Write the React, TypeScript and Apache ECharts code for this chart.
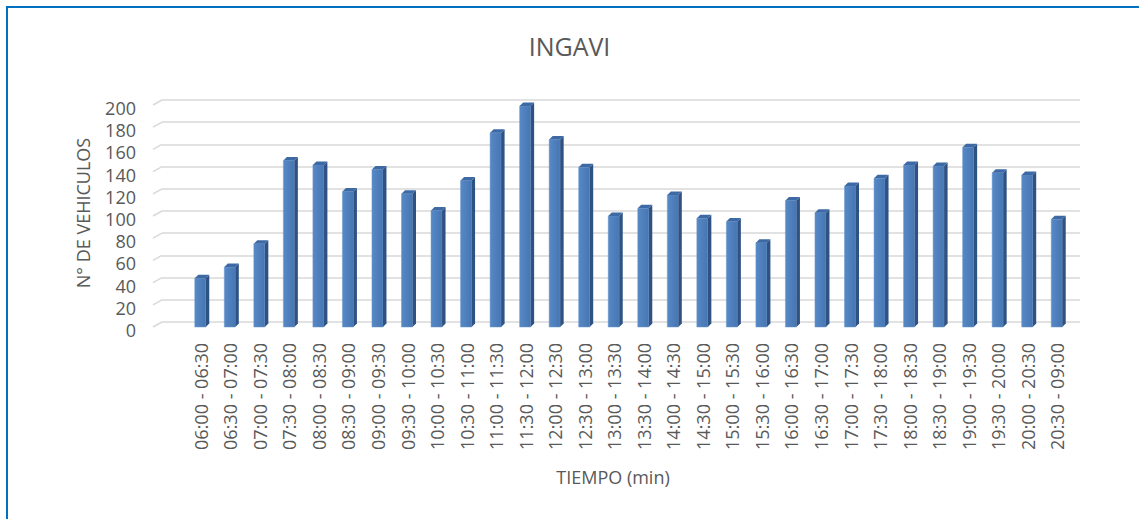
import React, { useEffect, useRef } from "react";
import * as echarts from "echarts";

const categories = [
  "06:00 - 06:30", "06:30 - 07:00", "07:00 - 07:30", "07:30 - 08:00", "08:00 - 08:30",
  "08:30 - 09:00", "09:00 - 09:30", "09:30 - 10:00", "10:00 - 10:30", "10:30 - 11:00",
  "11:00 - 11:30", "11:30 - 12:00", "12:00 - 12:30", "12:30 - 13:00", "13:00 - 13:30",
  "13:30 - 14:00", "14:00 - 14:30", "14:30 - 15:00", "15:00 - 15:30", "15:30 - 16:00",
  "16:00 - 16:30", "16:30 - 17:00", "17:00 - 17:30", "17:30 - 18:00", "18:00 - 18:30",
  "18:30 - 19:00", "19:00 - 19:30", "19:30 - 20:00", "20:00 - 20:30", "20:30 - 09:00",
];
const vehicles = [
  44, 54, 75, 150, 146, 122, 142, 120, 105, 132,
  175, 199, 169, 144, 100, 107, 119, 98, 95, 76,
  114, 103, 127, 134, 146, 145, 162, 139, 137, 97,
];
const gridTicks = [0, 20, 40, 60, 80, 100, 120, 140, 160, 180, 200];
const yTicks = { min: 0, max: 200, interval: 20 };
const title = "INGAVI";
const yName = "N° DE VEHICULOS";
const xName = "TIEMPO (min)";

const FONT = "'Open Sans', 'Liberation Sans', sans-serif";
const TXT = "#595959";
const GRID_COLOR = "#d9d9d9";

export default function App() {
  const ref = useRef<HTMLDivElement>(null);
  useEffect(() => {
    if (!ref.current) return;
    const chart = echarts.init(ref.current, null, { renderer: "svg" });
    const option: any = {
      animation: false,
      backgroundColor: "#ffffff",
      textStyle: { fontFamily: FONT },
      title: {
        text: title,
        left: "center",
        top: 28,
        textStyle: { fontFamily: FONT, fontSize: 25, fontWeight: "normal", color: TXT },
      },
      graphic: [
        {
          type: "text",
          x: 83,
          y: 213,
          rotation: Math.PI / 2,
          style: {
            text: yName,
            fill: TXT,
            font: `18px ${FONT}`,
            textAlign: "center",
            textVerticalAlign: "middle",
          },
        },
        {
          type: "text",
          x: 613,
          y: 477,
          style: {
            text: xName,
            fill: TXT,
            font: `18px ${FONT}`,
            textAlign: "center",
            textVerticalAlign: "middle",
          },
        },
      ],
      grid: [
        { left: 186, right: 67, top: 105, bottom: 192 },
        { left: 162, right: 59, top: 100, bottom: 197 },
        { left: 186, right: 67, top: 108, bottom: 189 },
      ],
      xAxis: [
        {
          type: "category",
          gridIndex: 0,
          data: categories,
          axisLine: { show: false },
          axisTick: { show: false },
          axisLabel: {
            interval: 0,
            rotate: 90,
            margin: 16,
            color: TXT,
            fontSize: 18,
            fontFamily: FONT,
          },
        },
        { type: "value", gridIndex: 1, min: 0, max: 1, show: false },
        { type: "value", gridIndex: 2, min: 0, max: 1, show: false },
      ],
      yAxis: [
        {
          type: "value",
          gridIndex: 0,
          ...yTicks,
          show: false,
          splitLine: { show: false },
        },
        {
          type: "value",
          gridIndex: 1,
          ...yTicks,
          axisLine: { show: false },
          axisTick: { show: false },
          axisLabel: { show: false },
          splitLine: { show: true, lineStyle: { color: GRID_COLOR, width: 1.5 } },
        },
        {
          type: "value",
          gridIndex: 2,
          ...yTicks,
          axisLine: { show: false },
          axisTick: { show: false },
          splitLine: { show: false },
          axisLabel: {
            margin: 50,
            color: TXT,
            fontSize: 18,
            fontFamily: FONT,
          },
        },
      ],
      series: [
        {
          type: "custom",
          xAxisIndex: 1,
          yAxisIndex: 1,
          silent: true,
          encode: { x: 0, y: 1 },
          data: gridTicks.map((t) => [0, t]),
          renderItem: (params: any, api: any) => {
            const p = api.coord([0, api.value(1)]);
            return {
              type: "line",
              shape: { x1: p[0], y1: p[1], x2: p[0] - 9, y2: p[1] + 5 },
              style: { stroke: GRID_COLOR, lineWidth: 1.5 },
            };
          },
        },
        {
          type: "custom",
          xAxisIndex: 0,
          yAxisIndex: 0,
          encode: { x: 0, y: 1 },
          data: vehicles.map((v, i) => [i, v]),
          renderItem: (params: any, api: any) => {
            const top = api.coord([api.value(0), api.value(1)]);
            const base = api.coord([api.value(0), 0]);
            const cx = top[0];
            const ty = top[1];
            const by = base[1];
            const l = cx - 6;
            const r = cx + 5;
            const d = 3.5;
            return {
              type: "group",
              children: [
                {
                  type: "rect",
                  shape: { x: l, y: ty, width: r - l, height: by - ty },
                  style: {
                    fill: new echarts.graphic.LinearGradient(0, 0, 1, 0, [
                      { offset: 0, color: "#5689c6" },
                      { offset: 1, color: "#4776b2" },
                    ]),
                    stroke: "#6b97cf",
                    lineWidth: 0.5,
                  },
                },
                {
                  type: "polygon",
                  shape: {
                    points: [
                      [r, ty],
                      [r + d, ty - d],
                      [r + d, by - d],
                      [r, by],
                    ],
                  },
                  style: { fill: "#2f5284" },
                },
                {
                  type: "polygon",
                  shape: {
                    points: [
                      [l, ty],
                      [l + d, ty - d],
                      [r + d, ty - d],
                      [r, ty],
                    ],
                  },
                  style: { fill: "#3d6aa4" },
                },
              ],
            };
          },
        },
      ],
    };
    chart.setOption(option);
    return () => chart.dispose();
  }, []);
  return (
    <>
      <div
        ref={ref}
        style={{ position: "fixed", left: 0, top: 0, width: 1139, height: 519 }}
      />
      <div
        style={{
          position: "fixed",
          left: 6,
          top: 6,
          width: 1131,
          height: 520,
          borderTop: "2px solid #0070c0",
          borderLeft: "2px solid #0070c0",
          borderRight: "1px solid #bdd7ee",
          pointerEvents: "none",
          boxSizing: "content-box",
        }}
      />
    </>
  );
}
